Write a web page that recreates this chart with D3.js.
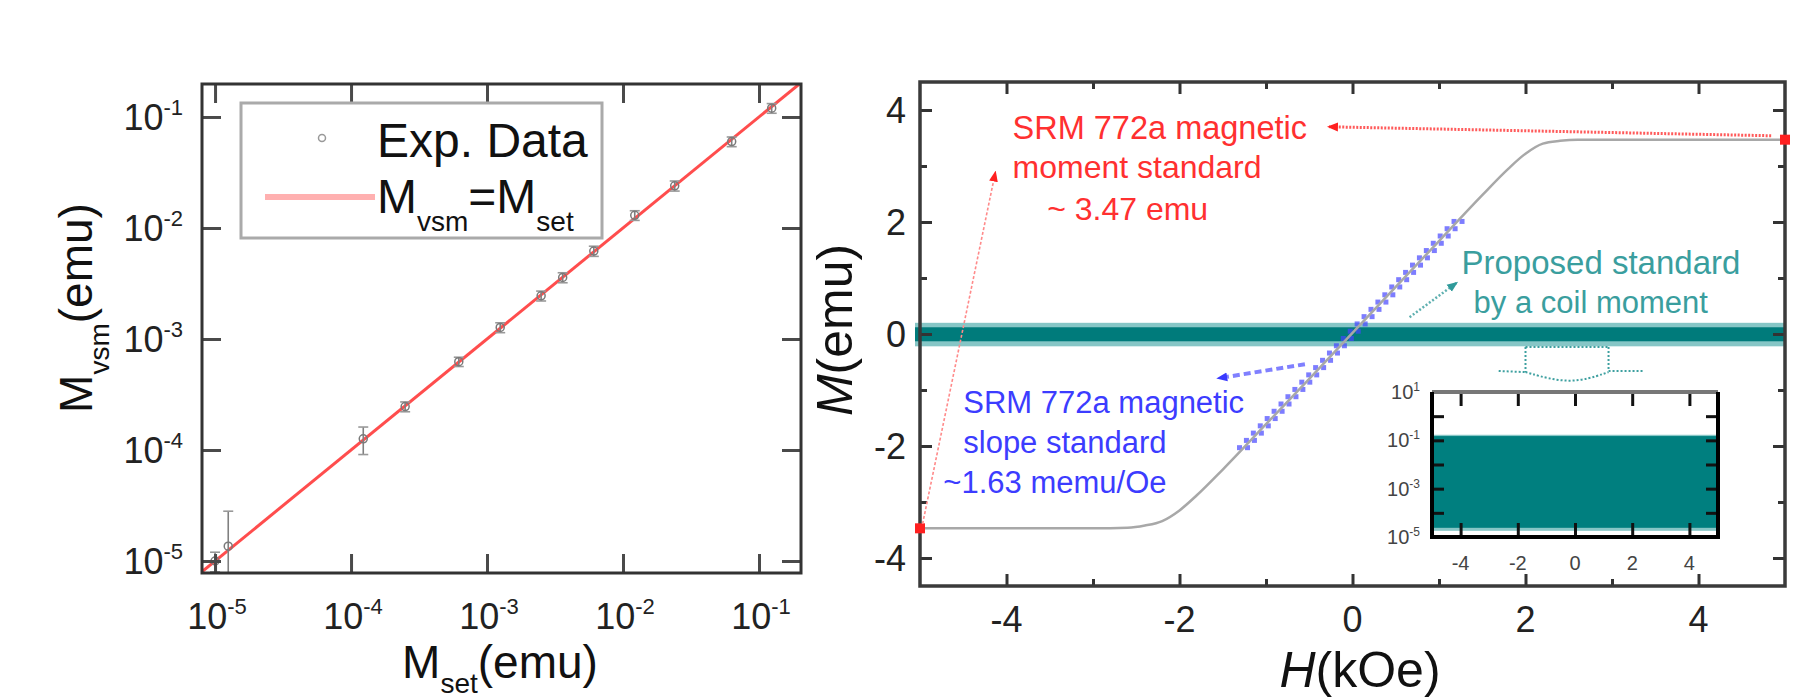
<!DOCTYPE html>
<html>
<head>
<meta charset="utf-8">
<script src="https://cdn.jsdelivr.net/npm/d3@7"></script>
<style>
  body { margin: 0; background: #fff; }
  svg { display: block; font-family: "Liberation Sans", Arial, sans-serif; }
</style>
</head>
<body>
<script>
const width = 1813;
const height = 698;

// ---- left panel: VSM moment vs set moment ----
const mSet = [1.0e-5, 1.25e-5, 1.23e-4, 2.5e-4, 6.2e-4, 1.25e-3, 2.5e-3, 3.6e-3, 6.1e-3, 1.22e-2, 2.4e-2, 6.3e-2, 1.24e-1];
const mVsm = [1.0e-5, 1.36e-5, 1.26e-4, 2.46e-4, 6.25e-4, 1.27e-3, 2.45e-3, 3.58e-3, 6.2e-3, 1.3e-2, 2.4e-2, 6.0e-2, 1.2e-1];
const mErr = [0.2e-5, 1.45e-5, 0.35e-4, 0.25e-4, 0.6e-4, 1.3e-4, 2.5e-4, 3.7e-4, 6.5e-4, 1.3e-3, 2.5e-3, 6.0e-3, 1.2e-2];
const fitLine = [8e-6, 0.2];
const decadeExp = [-5, -4, -3, -2, -1];

// ---- right panel: M(H) curve ----
const fieldH = [-5, -4, -3, -2.6, -2.4, -2.2, -2.0, -1.8, -1.5, -1.0, -0.5, 0, 0.5, 1.0, 1.5, 1.8, 2.0, 2.2, 2.4, 2.6, 3, 4, 5];
const momentM = [-3.47, -3.47, -3.47, -3.46, -3.42, -3.34, -3.15, -2.88, -2.42, -1.61, -0.80, 0.02, 0.84, 1.66, 2.48, 2.95, 3.22, 3.40, 3.45, 3.47, 3.47, 3.47, 3.47];
const slopeH = [-1.26, -1.18, -1.10, -1.02, -0.94, -0.86, -0.78, -0.70, -0.62, -0.54, -0.46, -0.38, -0.30, -0.22, -0.14, -0.06,
  0.02, 0.10, 0.18, 0.26, 0.34, 0.42, 0.50, 0.58, 0.66, 0.74, 0.82, 0.90, 0.98, 1.06, 1.14, 1.22];
const slopeM = [-2.03, -1.90, -1.77, -1.64, -1.51, -1.38, -1.25, -1.12, -0.99, -0.86, -0.73, -0.60, -0.47, -0.34, -0.21, -0.08,
  0.05, 0.18, 0.31, 0.44, 0.57, 0.70, 0.84, 0.97, 1.10, 1.23, 1.36, 1.49, 1.62, 1.75, 1.88, 2.01];
const satH = [-5, 5];
const satM = [-3.47, 3.47];
const majorTicks = [-4, -2, 0, 2, 4];
const minorTicks = [-3, -1, 1, 3];
const coilOuter = [-0.22, 0.2];
const coilInner = [-0.13, 0.12];

// ---- inset ----
const insetOuter = [1.8e-5, 0.17];
const insetInner = [2.4e-5, 0.15];
const insetLabelExp = [1, -1, -3, -5];
const insetTickExp = [0, -1, -2, -3, -4];

const svg = d3.select('body').append('svg')
  .attr('width', width)
  .attr('height', height);

svg.append('rect').attr('width', width).attr('height', height).attr('fill', '#fff');

// ================= LEFT PANEL =================
const lx = d3.scaleLog().domain([10 ** -5.096, 10 ** -0.691]).range([202, 801]);
const ly = d3.scaleLog().domain([10 ** -5.108, 10 ** -0.703]).range([573, 84]);
const decades = decadeExp.map(e => 10 ** e);

svg.append('clipPath').attr('id', 'clipL')
  .append('rect')
  .attr('x', lx.range()[0]).attr('y', ly.range()[1])
  .attr('width', lx.range()[1] - lx.range()[0])
  .attr('height', ly.range()[0] - ly.range()[1]);

const left = svg.append('g');
const leftPlot = left.append('g').attr('clip-path', 'url(#clipL)');

// fit line M_vsm = M_set
leftPlot.append('path')
  .datum(fitLine)
  .attr('d', d3.line().x(d => lx(d)).y(d => ly(d)))
  .attr('stroke', '#ff4d4d')
  .attr('stroke-width', 3)
  .attr('fill', 'none');

// error bars + points
const pts = mSet.map((s, i) => ({ s, v: mVsm[i], e: mErr[i] }));
const yBottom = ly.range()[0] + 5;
const errY = v => (v > 0 ? ly(v) : yBottom);
const pt = leftPlot.selectAll('.pt').data(pts).enter().append('g').attr('class', 'pt');
pt.append('line')
  .attr('x1', d => lx(d.s)).attr('x2', d => lx(d.s))
  .attr('y1', d => errY(d.v - d.e)).attr('y2', d => ly(d.v + d.e))
  .attr('stroke', '#808080').attr('stroke-width', 1.6);
pt.append('line')
  .attr('x1', d => lx(d.s) - 5).attr('x2', d => lx(d.s) + 5)
  .attr('y1', d => ly(d.v + d.e)).attr('y2', d => ly(d.v + d.e))
  .attr('stroke', '#999').attr('stroke-width', 1.6);
pt.append('line')
  .attr('x1', d => lx(d.s) - 5).attr('x2', d => lx(d.s) + 5)
  .attr('y1', d => errY(d.v - d.e)).attr('y2', d => errY(d.v - d.e))
  .attr('stroke', '#999').attr('stroke-width', 1.6);
pt.append('circle')
  .attr('cx', d => lx(d.s)).attr('cy', d => ly(d.v))
  .attr('r', 4)
  .attr('fill', 'none').attr('stroke', '#7a7a7a').attr('stroke-width', 1.5);

// ticks (inward, decades only)
const tickStyle = g => {
  g.select('.domain').remove();
  g.selectAll('line').attr('stroke', '#4a4a4a').attr('stroke-width', 3);
};
left.append('g').attr('transform', `translate(0,${ly.range()[0]})`)
  .call(d3.axisBottom(lx).tickValues(decades).tickSize(-19).tickFormat('')).call(tickStyle);
left.append('g').attr('transform', `translate(0,${ly.range()[1]})`)
  .call(d3.axisTop(lx).tickValues(decades).tickSize(-19).tickFormat('')).call(tickStyle);
left.append('g').attr('transform', `translate(${lx.range()[0]},0)`)
  .call(d3.axisLeft(ly).tickValues(decades).tickSize(-19).tickFormat('')).call(tickStyle);
left.append('g').attr('transform', `translate(${lx.range()[1]},0)`)
  .call(d3.axisRight(ly).tickValues(decades).tickSize(-19).tickFormat('')).call(tickStyle);

left.append('rect')
  .attr('x', lx.range()[0]).attr('y', ly.range()[1])
  .attr('width', lx.range()[1] - lx.range()[0])
  .attr('height', ly.range()[0] - ly.range()[1])
  .attr('fill', 'none').attr('stroke', '#333').attr('stroke-width', 3);

// tick labels 10^n
const powLabel = (sel, base, sup, supSize, supDy) => {
  sel.append('tspan').text('10').attr('font-size', base);
  sel.append('tspan').text(d => d).attr('font-size', supSize).attr('dy', supDy);
};
left.selectAll('.xl').data(decadeExp).enter().append('text')
  .attr('x', d => lx(10 ** d) + 2).attr('y', 629)
  .attr('text-anchor', 'middle').attr('fill', '#222')
  .call(powLabel, 36, null, 22, -15);
left.selectAll('.yl').data(decadeExp).enter().append('text')
  .attr('x', 183).attr('y', d => ly(10 ** d) + 13)
  .attr('text-anchor', 'end').attr('fill', '#222')
  .call(powLabel, 36, null, 22, -15);

// axis titles
const xTitleL = left.append('text').attr('x', 500).attr('y', 678)
  .attr('text-anchor', 'middle').attr('fill', '#111');
xTitleL.append('tspan').text('M').attr('font-size', 46);
xTitleL.append('tspan').text('set').attr('font-size', 28).attr('dy', 15);
xTitleL.append('tspan').text('(emu)').attr('font-size', 46).attr('dy', -15);

const yTitleL = left.append('text')
  .attr('transform', 'translate(92,308) rotate(-90)')
  .attr('text-anchor', 'middle').attr('fill', '#111');
yTitleL.append('tspan').text('M').attr('font-size', 46);
yTitleL.append('tspan').text('vsm').attr('font-size', 28).attr('dy', 17);
yTitleL.append('tspan').text('(emu)').attr('font-size', 46).attr('dy', -17);

// legend
const legend = left.append('g');
legend.append('rect')
  .attr('x', 241).attr('y', 103).attr('width', 361).attr('height', 135)
  .attr('fill', '#fff').attr('stroke', '#aaa').attr('stroke-width', 3);
legend.append('circle').attr('cx', 322).attr('cy', 138).attr('r', 3.5)
  .attr('fill', 'none').attr('stroke', '#999').attr('stroke-width', 1.5);
legend.append('text').attr('x', 377).attr('y', 157).attr('font-size', 48).attr('fill', '#111').text('Exp. Data');
legend.append('line').attr('x1', 265).attr('x2', 375).attr('y1', 197).attr('y2', 197)
  .attr('stroke', '#ffb0b0').attr('stroke-width', 6);
const legT = legend.append('text').attr('x', 377).attr('y', 213).attr('fill', '#111');
legT.append('tspan').text('M').attr('font-size', 48);
legT.append('tspan').text('vsm').attr('font-size', 28).attr('dy', 18);
legT.append('tspan').text('=M').attr('font-size', 48).attr('dy', -18);
legT.append('tspan').text('set').attr('font-size', 28).attr('dy', 18);

// ================= RIGHT PANEL =================
const rx = d3.scaleLinear().domain([-5, 5]).range([920, 1785]);
const ry = d3.scaleLinear().domain([-4.5, 4.5]).range([586, 82]);
const right = svg.append('g');

svg.append('clipPath').attr('id', 'clipR')
  .append('rect')
  .attr('x', rx.range()[0] - 5).attr('y', ry.range()[1])
  .attr('width', rx.range()[1] - rx.range()[0] + 5)
  .attr('height', ry.range()[0] - ry.range()[1]);
const rPlot = right.append('g').attr('clip-path', 'url(#clipR)');

// coil standard band
rPlot.append('rect')
  .attr('x', rx(-5) - 5).attr('width', rx(5) - rx(-5) + 5)
  .attr('y', ry(coilOuter[1])).attr('height', ry(coilOuter[0]) - ry(coilOuter[1]))
  .attr('fill', '#86c6c6');
rPlot.append('rect')
  .attr('x', rx(-5) - 5).attr('width', rx(5) - rx(-5) + 5)
  .attr('y', ry(coilInner[1])).attr('height', ry(coilInner[0]) - ry(coilInner[1]))
  .attr('fill', '#007b7b');

// slope standard data (blue)
const slopePts = slopeH.map((h, i) => ({ h, m: slopeM[i] }));
[-4, 4].forEach(off => {
  rPlot.selectAll(null).data(slopePts).enter().append('rect')
    .attr('x', d => rx(d.h) + off - 2.5).attr('y', d => ry(d.m) - 2.5)
    .attr('width', 5).attr('height', 5)
    .attr('fill', '#4646ff').attr('opacity', 0.7);
});

// M(H) curve
const curve = fieldH.map((h, i) => ({ h, m: momentM[i] }));
rPlot.append('path')
  .datum(curve)
  .attr('d', d3.line().x(d => rx(d.h)).y(d => ry(d.m)).curve(d3.curveMonotoneX))
  .attr('fill', 'none').attr('stroke', '#a8a8a8').attr('stroke-width', 2.5);

// frame + ticks
const rTickStyle = g => {
  g.select('.domain').remove();
  g.selectAll('line').attr('stroke', '#333').attr('stroke-width', 3);
};
const addTicks = (axisFn, scale, transform) => {
  right.append('g').attr('transform', transform)
    .call(axisFn(scale).tickValues(majorTicks).tickSize(-12).tickFormat('')).call(rTickStyle);
  right.append('g').attr('transform', transform)
    .call(axisFn(scale).tickValues(minorTicks).tickSize(-7).tickFormat('')).call(rTickStyle);
};
addTicks(d3.axisBottom, rx, `translate(0,${ry.range()[0]})`);
addTicks(d3.axisTop, rx, `translate(0,${ry.range()[1]})`);
addTicks(d3.axisLeft, ry, `translate(${rx.range()[0]},0)`);
addTicks(d3.axisRight, ry, `translate(${rx.range()[1]},0)`);

right.append('rect')
  .attr('x', rx.range()[0]).attr('y', ry.range()[1])
  .attr('width', rx.range()[1] - rx.range()[0])
  .attr('height', ry.range()[0] - ry.range()[1])
  .attr('fill', 'none').attr('stroke', '#3a3a3a').attr('stroke-width', 3.5);

// saturation end points (red squares)
right.selectAll('.sat').data(satH).enter().append('rect')
  .attr('x', (d) => rx(d) - 5).attr('y', (d, i) => ry(satM[i]) - 5)
  .attr('width', 10).attr('height', 10).attr('fill', '#ff2020');

// tick labels
right.selectAll('.rxl').data(majorTicks).enter().append('text')
  .attr('x', d => rx(d)).attr('y', 632)
  .attr('text-anchor', 'middle').attr('font-size', 36).attr('fill', '#222')
  .text(d => d);
right.selectAll('.ryl').data(majorTicks).enter().append('text')
  .attr('x', 906).attr('y', d => ry(d) + 13)
  .attr('text-anchor', 'end').attr('font-size', 36).attr('fill', '#222')
  .text(d => d);

const xTitleR = right.append('text').attr('x', 1360).attr('y', 687)
  .attr('text-anchor', 'middle').attr('font-size', 50).attr('fill', '#111');
xTitleR.append('tspan').text('H').attr('font-style', 'italic');
xTitleR.append('tspan').text('(kOe)');
const yTitleR = right.append('text')
  .attr('transform', 'translate(852,330) rotate(-90)')
  .attr('text-anchor', 'middle').attr('font-size', 50).attr('fill', '#111');
yTitleR.append('tspan').text('M').attr('font-style', 'italic');
yTitleR.append('tspan').text('(emu)');

// arrowheads
const defs = svg.append('defs');
[['ahRed', '#ff2020'], ['ahBlue', '#3a3aff'], ['ahTeal', '#2f9a9a']].forEach(([id, c]) => {
  defs.append('marker')
    .attr('id', id).attr('viewBox', '0 -5 10 10')
    .attr('refX', 8).attr('refY', 0)
    .attr('markerUnits', 'userSpaceOnUse')
    .attr('markerWidth', 11).attr('markerHeight', 11)
    .attr('orient', 'auto')
    .append('path').attr('d', 'M0,-4L10,0L0,4Z').attr('fill', c);
});

const arrow = (from, to, color, w, dash, head) => {
  right.append('line')
    .attr('x1', rx(from[0])).attr('y1', ry(from[1]))
    .attr('x2', rx(to[0])).attr('y2', ry(to[1]))
    .attr('stroke', color).attr('stroke-width', w)
    .attr('stroke-dasharray', dash)
    .attr('marker-end', `url(#${head})`);
};
arrow([4.84, 3.54], [-0.27, 3.70], '#ff5a5a', 3, '2,1.5', 'ahRed');
arrow([-4.97, -3.39], [-4.13, 2.88], '#ff8a8a', 1.6, '3,2', 'ahRed');
arrow([-0.55, -0.54], [-1.55, -0.79], '#8080ff', 4, '7,4', 'ahBlue');
arrow([0.66, 0.30], [1.20, 0.91], '#5fb0b0', 2.5, '2,2', 'ahTeal');

// annotation texts
const note = (lines, color) => {
  lines.forEach(([txt, h, m, size]) => {
    right.append('text')
      .attr('x', rx(h)).attr('y', ry(m))
      .attr('font-size', size).attr('fill', color)
      .text(txt);
  });
};
note([['SRM 772a magnetic', -3.93, 3.48, 32.5], ['moment standard', -3.93, 2.79, 32], ['~ 3.47 emu', -3.53, 2.04, 32]], '#ff3030');
note([['SRM 772a magnetic', -4.5, -1.41, 31], ['slope standard', -4.5, -2.13, 31], ['~1.63 memu/Oe', -4.73, -2.84, 31]], '#3c3cff');
note([['Proposed standard', 1.26, 1.07, 33], ['by a coil moment', 1.40, 0.375, 31]], '#3a9e9e');

// zoom connector under the band
const conn = [
  [[2.0, -0.23], [2.96, -0.23]],
  [[2.0, -0.23], [2.0, -0.68]],
  [[2.96, -0.23], [2.96, -0.66]],
  [[1.69, -0.66], [2.0, -0.68]],
  [[2.96, -0.66], [3.36, -0.66]],
  [[2.0, -0.68], [2.52, -0.91], [2.96, -0.68]]
];
conn.forEach(seg => {
  right.append('path')
    .attr('d', d3.line().x(d => rx(d[0])).y(d => ry(d[1])).curve(d3.curveBasis)(seg))
    .attr('fill', 'none').attr('stroke', '#3ea0a0').attr('stroke-width', 2)
    .attr('stroke-dasharray', '2,2');
});

// ================= INSET =================
const ix = d3.scaleLinear().domain([-5, 5]).range([1432, 1718]);
const iy = d3.scaleLog().domain([1e-5, 1e1]).range([537, 392]);
const inset = svg.append('g');
inset.append('rect')
  .attr('x', ix(-5)).attr('y', iy(1e1)).attr('width', ix(5) - ix(-5)).attr('height', iy(1e-5) - iy(1e1))
  .attr('fill', '#fff');
inset.append('rect')
  .attr('x', ix(-5)).attr('width', ix(5) - ix(-5))
  .attr('y', iy(insetOuter[1])).attr('height', iy(insetOuter[0]) - iy(insetOuter[1]))
  .attr('fill', '#86c6c6');
inset.append('rect')
  .attr('x', ix(-5)).attr('width', ix(5) - ix(-5))
  .attr('y', iy(insetInner[1])).attr('height', iy(insetInner[0]) - iy(insetInner[1]))
  .attr('fill', '#007f7f');

const iTickStyle = g => {
  g.select('.domain').remove();
  g.selectAll('line').attr('stroke', '#111').attr('stroke-width', 3);
};
const iDec = insetTickExp.map(e => 10 ** e);
inset.append('g').attr('transform', `translate(0,${iy.range()[0]})`)
  .call(d3.axisBottom(ix).tickValues(majorTicks).tickSize(-14).tickFormat('')).call(iTickStyle);
inset.append('g').attr('transform', `translate(0,${iy.range()[1]})`)
  .call(d3.axisTop(ix).tickValues(majorTicks).tickSize(-14).tickFormat('')).call(iTickStyle);
inset.append('g').attr('transform', `translate(${ix.range()[0]},0)`)
  .call(d3.axisLeft(iy).tickValues(iDec).tickSize(-12).tickFormat('')).call(iTickStyle);
inset.append('g').attr('transform', `translate(${ix.range()[1]},0)`)
  .call(d3.axisRight(iy).tickValues(iDec).tickSize(-12).tickFormat('')).call(iTickStyle);

inset.append('path')
  .attr('d', `M${ix(-5)},${iy(1e1)}H${ix(5)}`)
  .attr('stroke', '#777').attr('stroke-width', 4);
inset.append('path')
  .attr('d', `M${ix(-5)},${iy(1e1)}V${iy(1e-5)}H${ix(5)}V${iy(1e1)}`)
  .attr('fill', 'none').attr('stroke', '#000').attr('stroke-width', 4);

inset.selectAll('.ixl').data(majorTicks).enter().append('text')
  .attr('x', d => ix(d)).attr('y', 570)
  .attr('text-anchor', 'middle').attr('font-size', 20).attr('fill', '#444')
  .text(d => d);
inset.selectAll('.iyl').data(insetLabelExp).enter().append('text')
  .attr('x', 1420).attr('y', d => iy(10 ** d) + 7)
  .attr('text-anchor', 'end').attr('fill', '#444')
  .call(powLabel, 20, null, 12, -8);
</script>
</body>
</html>
